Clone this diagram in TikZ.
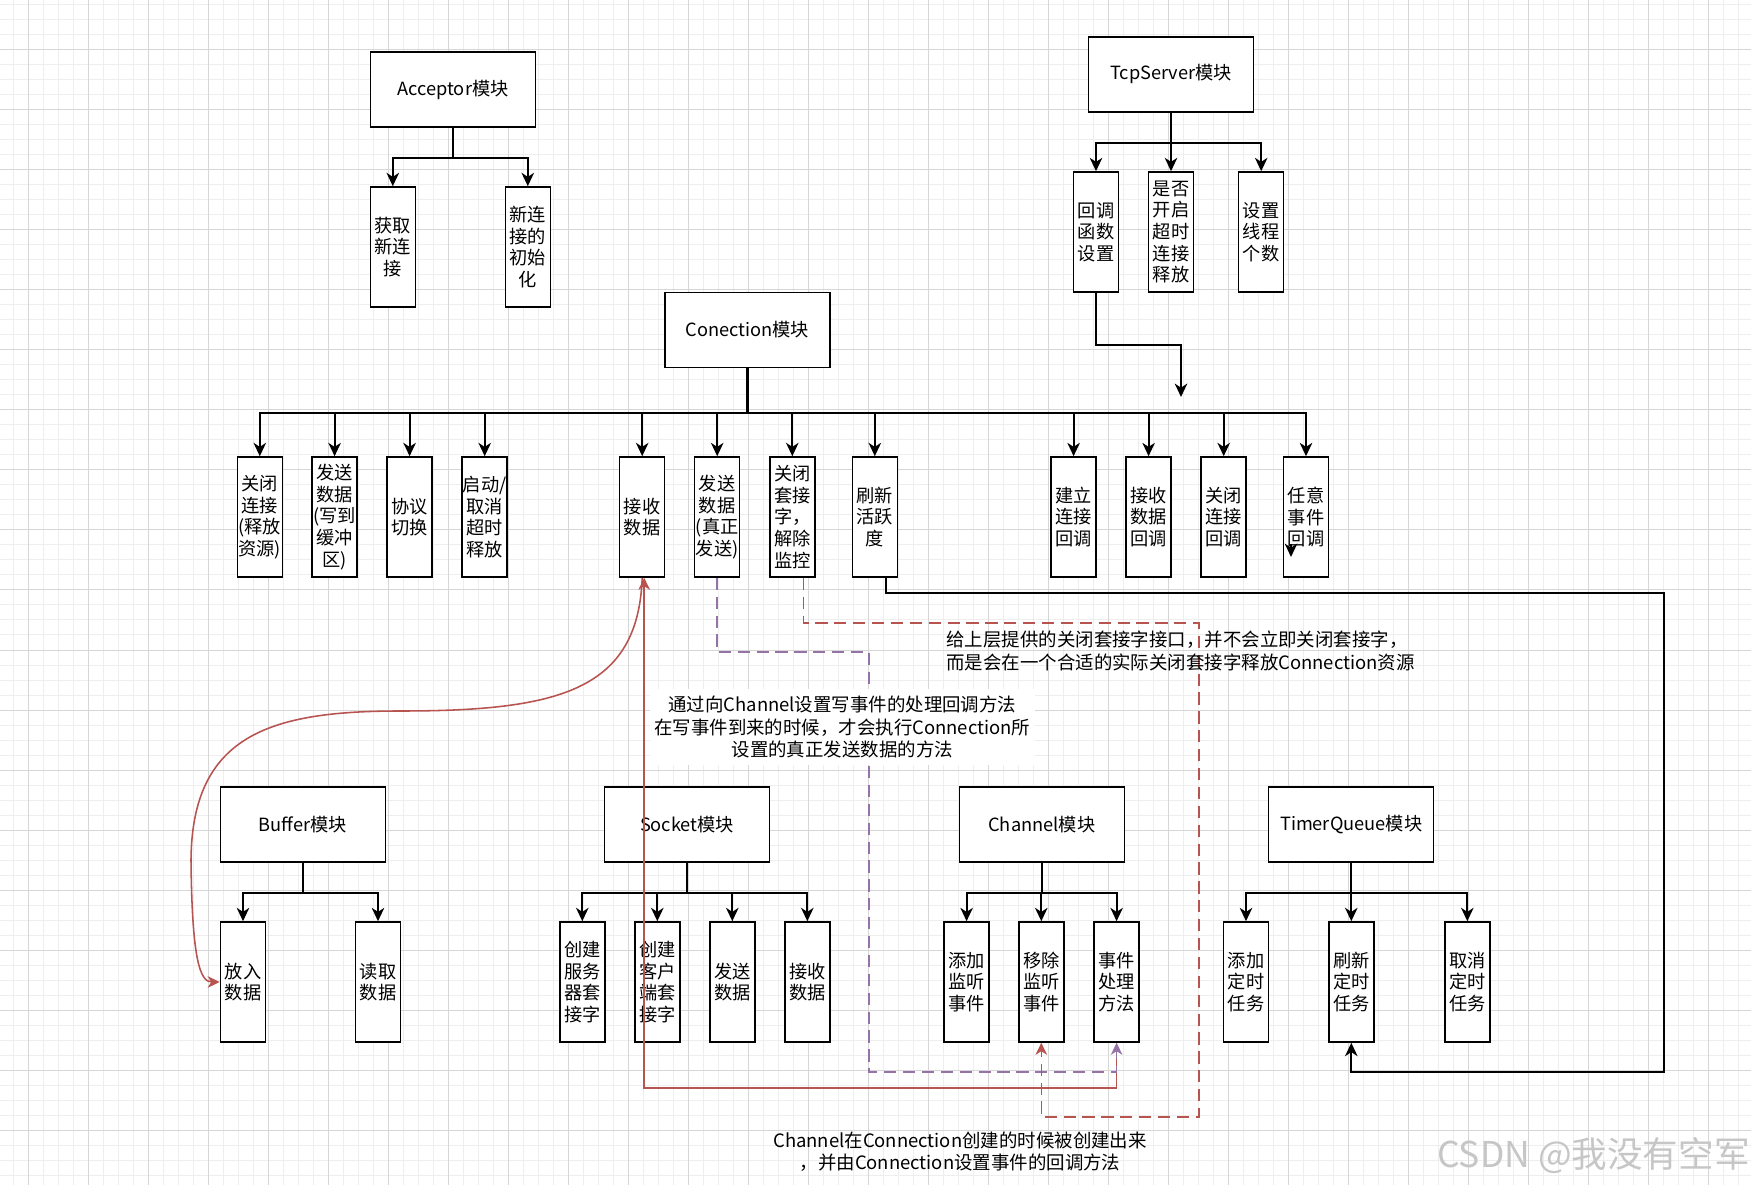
\documentclass[tikz,border=0pt]{standalone}
\usepackage{fontspec}
\setmainfont{Noto Sans CJK SC}
\usetikzlibrary{arrows.meta}
\definecolor{redline}{HTML}{B85450}
\definecolor{purpleline}{HTML}{9673A6}
\definecolor{gridmajcol}{RGB}{214,214,214}
\definecolor{gridmincol}{RGB}{238,238,238}
\tikzset{
    modbox/.style = {rectangle, line width=0.7pt, draw=black, fill=white, minimum width=74.25pt, minimum height=33.75pt, inner sep=0pt, font=\fontsize{8.2}{9.7}\selectfont},
    itembox/.style = {rectangle, line width=0.7pt, draw=black, fill=white, minimum width=20.25pt, minimum height=54pt, inner sep=0pt, align=center, font=\fontsize{8.2}{9.7}\selectfont},
    edgen/.style = {-{Stealth[length=6pt,width=5.6pt,inset=1.8pt]}, line width=0.9pt},
    trunk/.style = {line width=1.3pt},
    edger/.style = {-{Stealth[length=5.4pt,width=5.2pt,inset=1.6pt]}, line width=0.7pt, redline},
    edgerd/.style = {edger, dash pattern=on 5.5pt off 3pt}, % close socket
    edgepd/.style = {edger, purpleline, dash pattern=on 5.5pt off 3pt}, % real send
    notetext/.style = {inner sep=0pt, align=center, font=\fontsize{8.3}{10.3}\selectfont},
    gridminor/.style = {draw=gridmincol, line width=0.45pt},
    gridmajor/.style = {draw=gridmajcol, line width=0.45pt}
}

\begin{document}
\begin{tikzpicture}[x=0.45pt, y=-0.45pt]
\useasboundingbox (0,0) rectangle (1751,1185);
\fill[white] (0,0) rectangle (1751,1185);
% grid
\foreach \i in {0,...,116} \draw[gridminor] ({-1.7+15*\i},0) -- ({-1.7+15*\i},1185);
\foreach \j in {0,...,78} \draw[gridminor] (0,{5+15*\j}) -- (1751,{5+15*\j});
\foreach \i in {0,...,28} \draw[gridmajor] ({28.3+60*\i},0) -- ({28.3+60*\i},1185);
\foreach \j in {0,...,18} \draw[gridmajor] (0,{50+60*\j}) -- (1751,{50+60*\j});

\node[modbox] at (453,89.5) (acc) {Acceptor模块};
\node[itembox] at (392.8,247) (acc1) {获取\\新连\\接};
\node[itembox] at (527.8,247) (acc2) {新连\\接的\\初始\\化};

\node[modbox] at (1171,74.3) (tcp) {TcpServer模块};
\node[itembox] at (1096,232) (tcp1) {回调\\函数\\设置};
\node[itembox] at (1171,232) (tcp2) {是否\\开启\\超时\\连接\\释放};
\node[itembox] at (1261.2,232) (tcp3) {设置\\线程\\个数};

\node[modbox] at (747.3,329.8) (con) {Conection模块};
\node[itembox] at (259.8,517) (c1) {关闭\\连接\\(释放\\资源)};
\node[itembox] at (334.6,517) (c2) {发送\\数据\\(写到\\缓冲\\区)};
\node[itembox] at (409.6,517) (c3) {协议\\切换};
\node[itembox] at (484.7,517) (c4) {启动/\\取消\\超时\\释放};
\node[itembox] at (642.2,517) (c5) {接收\\数据};
\node[itembox] at (717.2,517) (c6) {发送\\数据\\(真正\\发送)};
\node[itembox] at (792.3,517) (c7) {关闭\\套接\\字，\\解除\\监控};
\node[itembox] at (874.8,517) (c8) {刷新\\活跃\\度};
\node[itembox] at (1073.6,517) (c9) {建立\\连接\\回调};
\node[itembox] at (1148.6,517) (c10) {接收\\数据\\回调};
\node[itembox] at (1223.7,517) (c11) {关闭\\连接\\回调};
\node[itembox] at (1306,517) (c12) {任意\\事件\\回调};

\node[modbox] at (302.8,824.5) (buf) {Buffer模块};
\node[itembox] at (243,982) (buf1) {放入\\数据};
\node[itembox] at (378,982) (buf2) {读取\\数据};

\node[modbox] at (687.1,824.5) (sock) {Socket模块};
\node[itembox] at (582.3,982) (sk1) {创建\\服务\\器套\\接字};
\node[itembox] at (657.3,982) (sk2) {创建\\客户\\端套\\接字};
\node[itembox] at (732.3,982) (sk3) {发送\\数据};
\node[itembox] at (807.3,982) (sk4) {接收\\数据};

\node[modbox] at (1041.8,824.5) (chan) {Channel模块};
\node[itembox] at (966.6,982) (ch1) {添加\\监听\\事件};
\node[itembox] at (1041.3,982) (ch2) {移除\\监听\\事件};
\node[itembox] at (1116.6,982) (ch3) {事件\\处理\\方法};

\node[modbox] at (1351.2,824.5) (tq) {TimerQueue模块};
\node[itembox] at (1246,982) (tq1) {添加\\定时\\任务};
\node[itembox] at (1351.3,982) (tq2) {刷新\\定时\\任务};
\node[itembox] at (1467.3,982) (tq3) {取消\\定时\\任务};
%
\foreach \k in {1,2} \draw[edgen] (acc.south) -- ++(0,30) -| (acc\k);
\foreach \k in {1,2,3} \draw[edgen] (tcp.south) -- ++(0,30) -| (tcp\k);
\path (con.south) ++(0,45) coordinate (conbus);
\draw[trunk] (con.south) -- (conbus);
\foreach \k in {1,...,12} \draw[edgen] (conbus) -| (c\k);
\foreach \k in {1,2} \draw[edgen] (buf.south) -- ++(0,30) -| (buf\k);
\foreach \k in {1,...,4} \draw[edgen] (sock.south) -- ++(0,30) -| (sk\k);
\foreach \k in {1,2,3} \draw[edgen] (chan.south) -- ++(0,30) -| (ch\k);
\foreach \k in {1,2,3} \draw[edgen] (tq.south) -- ++(0,30) -| (tq\k);

\coordinate (tcpend) at (1181,397);
\draw[edgen] (tcp1.south) -- ++(0,52) -| (tcpend);
\coordinate (stray1) at (1291,543.7);
\coordinate (stray2) at (1291,557);
\draw[edgen] (stray1) -- (stray2);
\draw[edgen] (c8.south) ++(11.6,0) -- ++(0,15) -| (1664,1072) -| (tq2);

\draw[edger] (ch3.south) -- ++(0,45) -| ([xshift=0.9pt]c5.south);
\draw[edger] (c5.south) .. controls (638,690) and (560,711) .. (400,711)
    .. controls (270,711) and (192,735) .. (191,860)
    .. controls (192,960) and (200,982) .. (buf1.west);
\draw[edgepd] (c6.south) -- ++(0,74) -| (869,1072) -| (ch3);
\draw[edgerd] (c7.south) ++(11.4,0) -- ++(0,45) -| (1199,1117) -| (ch2);

\node[notetext, align=left, anchor=west] at (946,651) (n1) {给上层提供的关闭套接字接口，并不会立即关闭套接字，\\而是会在一个合适的实际关闭套接字释放Connection资源};
\node[notetext, fill=white, inner xsep=2pt, inner ysep=3pt] at (842.3,727) (n2) {通过向Channel设置写事件的处理回调方法\\在写事件到来的时候，才会执行Connection所\\设置的真正发送数据的方法};
\node[notetext] at (960,1151.7) (n3) {Channel在Connection创建的时候被创建出来\\，并由Connection设置事件的回调方法};
\node[anchor=east, inner sep=0pt, text=gray!45, font=\fontsize{16}{16}\selectfont] at (1750,1156) (wm) {CSDN @我没有空军};
\end{tikzpicture}
\end{document}
